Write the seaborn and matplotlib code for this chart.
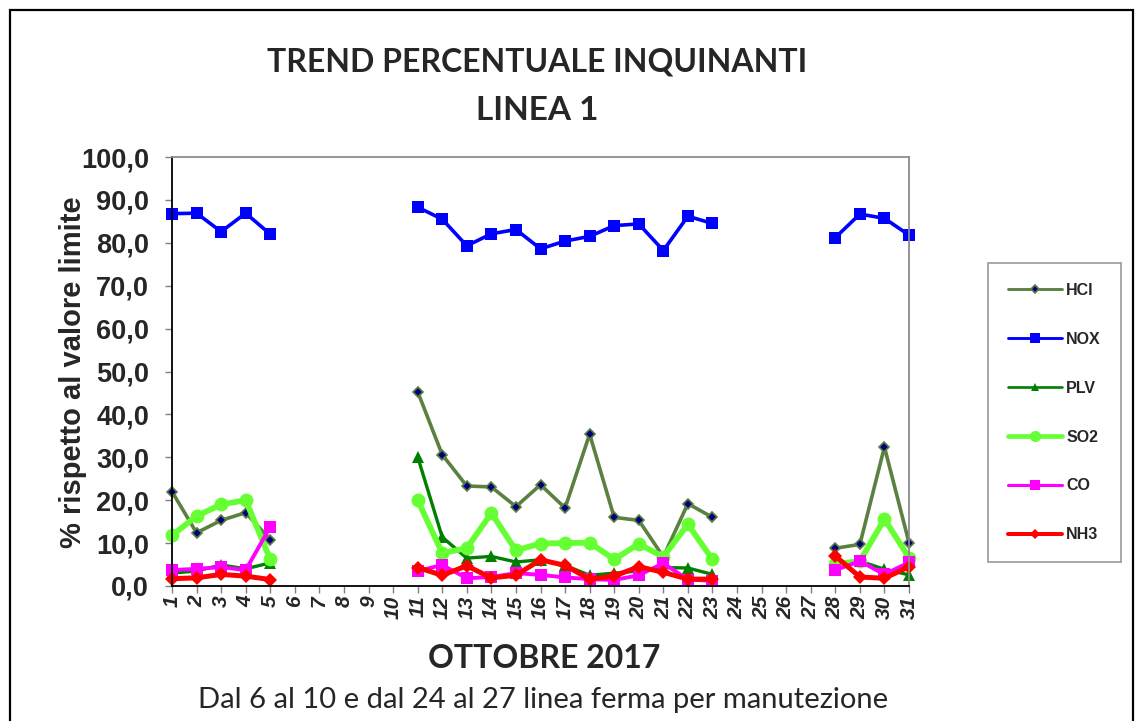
import numpy as np
import pandas as pd
import matplotlib
matplotlib.use("Agg")
import matplotlib.pyplot as plt
from matplotlib.lines import Line2D
from matplotlib.patches import Rectangle
import seaborn as sns

nan = np.nan
days = list(range(1, 32))

hcl = [22.0, 12.4, 15.3, 17.1, 10.8, nan, nan, nan, nan, nan,
       45.3, 30.6, 23.3, 23.1, 18.5, 23.6, 18.2, 35.4, 16.0, 15.3, 6.8, 19.2, 16.0,
       nan, nan, nan, nan, 8.8, 9.7, 32.4, 10.1]
nox = [86.8, 86.9, 82.6, 86.9, 82.0, nan, nan, nan, nan, nan,
       88.3, 85.5, 79.3, 82.1, 83.1, 78.6, 80.4, 81.5, 84.0, 84.4, 78.2, 86.2, 84.5,
       nan, nan, nan, nan, 81.2, 86.7, 85.7, 81.8]
plv = [3.0, 3.5, 4.9, 4.0, 5.4, nan, nan, nan, nan, nan,
       30.1, 11.4, 6.5, 6.9, 5.6, 6.1, 4.8, 2.5, 3.0, 3.5, 4.3, 4.2, 2.7,
       nan, nan, nan, nan, 5.1, 5.8, 3.9, 2.6]
so2 = [11.8, 16.3, 19.0, 20.0, 6.2, nan, nan, nan, nan, nan,
       20.0, 7.7, 8.8, 17.0, 8.3, 9.9, 10.0, 10.1, 6.2, 9.8, 6.8, 14.4, 6.2,
       nan, nan, nan, nan, 5.1, 5.8, 15.6, 6.6]
co = [3.7, 4.0, 4.4, 3.7, 13.8, nan, nan, nan, nan, nan,
      3.5, 4.9, 1.8, 2.1, 3.0, 2.6, 2.0, 1.6, 1.4, 2.5, 5.3, 1.5, 1.2,
      nan, nan, nan, nan, 3.7, 5.8, 2.7, 5.5]
nh3 = [1.7, 1.9, 2.7, 2.3, 1.5, nan, nan, nan, nan, nan,
       4.3, 2.5, 4.7, 1.9, 2.5, 6.1, 4.8, 1.6, 2.3, 4.5, 3.2, 1.6, 1.6,
       nan, nan, nan, nan, 7.0, 2.1, 1.8, 4.5]

series_names = ["HCl", "NOX", "PLV", "SO2", "CO", "NH3"]
legend_labels = ["HCl", "NOX", "PLV", "SO2", "CO", "NH3"]
series_values = [hcl, nox, plv, so2, co, nh3]

title_line1 = "TREND PERCENTUALE INQUINANTI"
title_line2 = "LINEA 1"
x_title = "OTTOBRE 2017"
note = "Dal 6 al 10 e dal 24 al 27 linea ferma per manutezione"
y_title = "% rispetto al valore limite"

styles = {
    "HCl": dict(color="#5B8040", lw=2.6, marker="D", ms=5, mfc="#000080", mec="#5B8040", mew=1.2),
    "NOX": dict(color="#0000FF", lw=2.6, marker="s", ms=9, mfc="#0000FF", mec="#0000FF", mew=0),
    "PLV": dict(color="#008000", lw=2.4, marker="^", ms=8, mfc="#008000", mec="#008000", mew=0),
    "SO2": dict(color="#66FF33", lw=4.2, marker="o", ms=10, mfc="#66FF33", mec="#66FF33", mew=0),
    "CO":  dict(color="#FF00FF", lw=2.8, marker="s", ms=9, mfc="#FF00FF", mec="#FF00FF", mew=0),
    "NH3": dict(color="#FF0000", lw=3.6, marker="D", ms=7, mfc="#FF0000", mec="#FF0000", mew=0),
}

# Long-form table; each run of consecutive days becomes its own line segment
rows = []
for name, vals in zip(series_names, series_values):
    seg = 0
    prev_nan = True
    for d, v in zip(days, vals):
        if np.isnan(v):
            prev_nan = True
            continue
        if prev_nan:
            seg += 1
            prev_nan = False
        rows.append({"giorno": d, "valore": v, "serie": name, "tratto": seg})
df = pd.DataFrame(rows)

sns.set_theme(style="white")
plt.rcParams["font.family"] = ["Liberation Sans", "DejaVu Sans"]

fig = plt.figure(figsize=(11.43, 7.21), dpi=100)
ax = fig.add_axes([172 / 1143, 1 - 586 / 721, (909 - 172) / 1143, (586 - 157) / 721])

for name in series_names:
    st = styles[name]
    sub = df[df["serie"] == name]
    for seg_id, part in sub.groupby("tratto"):
        sns.lineplot(data=part, x="giorno", y="valore", ax=ax, color=st["color"],
                     linewidth=st["lw"], marker=st["marker"], markersize=st["ms"],
                     markerfacecolor=st["mfc"], markeredgecolor=st["mec"],
                     markeredgewidth=st["mew"], estimator=None, sort=False,
                     legend=False, clip_on=False)

ax.set_xlim(1, 31)
ax.set_ylim(0, 100)
ax.set_xticks(days)
ax.set_xticklabels([str(d) for d in days], rotation=90, fontsize=15,
                   fontweight="bold", fontstyle="italic")
ax.set_yticks(np.arange(0, 101, 10))
ax.set_yticklabels([f"{v:.1f}".replace(".", ",") for v in np.arange(0, 101, 10)],
                   fontsize=19.5, fontweight="bold")
ax.set_xlabel("")
ax.set_ylabel("")
ax.tick_params(axis="both", which="major", direction="out", length=5, width=1,
               color="#808080", bottom=True, left=True)
ax.tick_params(axis="y", pad=11.5)
ax.tick_params(axis="x", pad=2)

for side in ("left", "bottom"):
    ax.spines[side].set_color("black")
    ax.spines[side].set_linewidth(1.3)
for side in ("top", "right"):
    ax.spines[side].set_color("#8C8C8C")
    ax.spines[side].set_linewidth(1.3)
    ax.spines[side].set_visible(True)

fig.text(73 / 1143, 1 - 372 / 721, y_title, rotation=90, ha="center", va="center",
         fontsize=21, fontweight="bold")

fig.text(537 / 1143, 1 - 62 / 721, title_line1, ha="center", va="center",
         fontsize=23, fontweight="bold", family=["Lato", "DejaVu Sans"])
fig.text(537 / 1143, 1 - 110 / 721, title_line2, ha="center", va="center",
         fontsize=24, fontweight="bold", family=["Lato", "DejaVu Sans"])
fig.text(544 / 1143, 1 - 659 / 721, x_title, ha="center", va="center",
         fontsize=23, fontweight="bold", family=["Lato", "DejaVu Sans"])
fig.text(543 / 1143, 1 - 700 / 721, note, ha="center", va="center",
         fontsize=21, family=["Lato", "DejaVu Sans"])

handles = []
for name in series_names:
    st = styles[name]
    handles.append(Line2D([], [], color=st["color"], lw=st["lw"] * 0.8, marker=st["marker"],
                          markersize=st["ms"] * 0.8, markerfacecolor=st["mfc"],
                          markeredgecolor=st["mec"], markeredgewidth=st["mew"]))
leg = fig.legend(handles, legend_labels, loc="upper left",
                 bbox_to_anchor=(988 / 1143, 1 - 263 / 721),
                 prop={"family": "Liberation Sans", "weight": "bold", "size": 11.5},
                 frameon=True, fancybox=False, edgecolor="#808080",
                 labelspacing=2.12, handlelength=3.4, handletextpad=0.25,
                 borderpad=1.25, borderaxespad=0, markerscale=1.0)
leg.get_frame().set_linewidth(1.2)

fig.patches.append(Rectangle((10 / 1143, -0.05), (1133 - 10) / 1143, 1.05 - 10 / 721,
                             transform=fig.transFigure, fill=False, edgecolor="black",
                             linewidth=1.6))

fig.savefig("out.png", dpi=100, facecolor="white")
